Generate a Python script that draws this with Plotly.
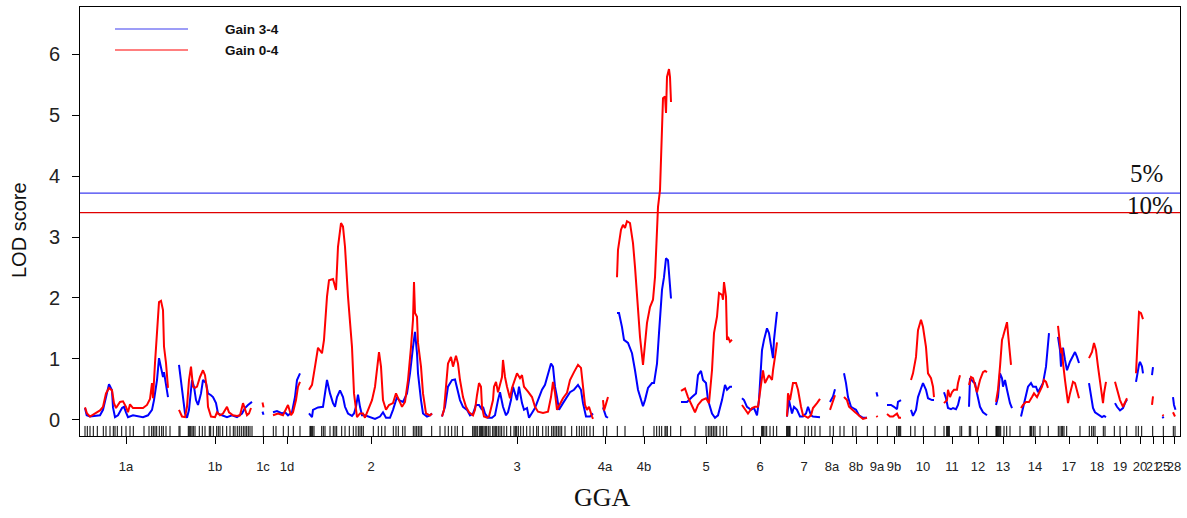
import plotly.graph_objects as go

# ---- chromosome layout (cumulative map position) ----
CHROM_LABELS = ["1a", "1b", "1c", "1d", "2", "3", "4a", "4b", "5", "6", "7", "8a", "8b", "9a", "9b",
                "10", "11", "12", "13", "14", "17", "18", "19", "20", "21", "25", "28"]
CHROM_MID = [126, 215, 263, 287, 371, 517, 605, 644, 706, 760, 804, 832, 856, 877, 894,
             923, 952, 978, 1003, 1035, 1069, 1097, 1120, 1140, 1153, 1163, 1174]

# ---- LOD profile, Gain 3-4 (per chromosome) ----
BLUE_POS = [
    [85, 86.7, 90, 95, 100, 103, 106, 109, 112, 113, 115, 118, 122, 124, 126, 128, 133, 138, 143, 148, 152, 154, 157, 159, 161, 163, 164, 166, 168],
    [179, 181, 183, 185, 187, 189, 192, 194, 196, 198, 201, 203, 206, 208, 211, 213, 216, 218, 222, 227, 232, 237, 242, 245, 248, 252],
    [262.5, 263.5],
    [273, 277, 282, 285, 288, 292, 295, 297, 300],
    [309, 312, 313, 318, 323, 325, 327, 330, 333, 335, 337, 340, 343, 345, 348, 352, 354, 356, 358, 360, 362, 365, 370, 375, 380, 383, 386, 390, 393, 397, 399, 403, 407, 410, 413, 415, 417, 418, 421, 423, 427, 430, 432],
    [442, 445, 448, 452, 455, 457, 460, 463, 467, 470, 473, 476, 479, 482, 483, 485, 488, 492, 495, 498, 500, 503, 506, 508, 511, 513, 515, 517, 519, 522, 524, 527, 529, 532, 535, 538, 542, 545, 548, 551, 553, 555, 557, 559, 563, 567, 570, 574, 578, 581, 583, 586, 590, 593],
    [603, 604.5, 606, 608],
    [617, 619, 622, 624, 628, 632, 635, 638, 643, 645, 648, 652, 654, 657, 659, 662, 664, 666, 668, 669, 671],
    [681, 687, 692, 696, 698, 701, 703, 706, 708, 712, 715, 718, 722, 725, 727, 730, 732],
    [742, 744, 747, 751, 754, 757, 759, 762, 764, 767, 769, 772, 773, 774, 776, 777],
    [787, 789, 792, 794, 797, 800, 803, 806, 808, 811, 813, 820],
    [830, 833, 835],
    [844, 846, 848, 851, 853, 856, 859, 863, 867],
    [876.5, 877.5],
    [887, 891, 894, 897, 898, 901],
    [911, 913, 916, 918, 921, 923, 926, 928, 932, 934],
    [944, 946, 948, 951, 953, 956, 958, 960],
    [969, 970, 973, 975, 977, 980, 983, 987],
    [996, 998, 1000, 1002, 1003, 1005, 1007, 1010, 1012],
    [1021, 1023, 1026, 1028, 1031, 1033, 1036, 1038, 1041, 1043, 1046, 1048, 1049],
    [1058, 1060, 1061, 1063, 1065, 1067, 1070, 1073, 1075, 1077, 1079],
    [1089, 1091, 1093, 1095, 1098, 1102, 1104, 1106],
    [1115, 1117, 1120, 1123, 1125, 1127],
    [1136, 1137, 1139, 1140, 1142, 1143],
    [1152, 1153],
    [1162.5, 1163.5],
    [1173, 1174, 1175.5],
]
BLUE_LOD = [
    [.19, .07, .05, .06, .07, .16, .40, .58, .48, .20, .04, .07, .19, .21, .12, .04, .07, .06, .04, .07, .16, .32, .65, 1.01, .82, .70, .78, .60, .37],
    [.90, .65, .32, .10, .03, .16, .65, .54, .32, .24, .43, .65, .60, .43, .40, .37, .27, .10, .07, .04, .07, .04, .10, .19, .24, .29],
    [.13, .08],
    [.12, .14, .10, .12, .07, .12, .37, .65, .76],
    [.10, .04, .16, .20, .21, .43, .65, .43, .27, .21, .37, .48, .37, .21, .10, .06, .10, .21, .41, .21, .07, .07, .04, .01, .05, .12, .03, .03, .16, .37, .32, .29, .43, .76, 1.19, 1.44, 1.09, .76, .32, .10, .05, .07, .10],
    [.05, .21, .54, .65, .66, .54, .32, .21, .16, .07, .10, .24, .24, .16, .21, .10, .03, .03, .07, .32, .45, .21, .07, .12, .32, .54, .44, .32, .54, .27, .16, .19, .03, .10, .19, .32, .49, .57, .76, .92, .87, .54, .37, .16, .27, .37, .45, .49, .57, .49, .27, .05, .05, .10],
    [.20, .12, .05, .03],
    [1.75, 1.75, 1.52, 1.31, 1.26, 1.09, .81, .49, .22, .32, .52, .60, .60, .92, 1.42, 2.13, 2.34, 2.65, 2.62, 2.34, 1.99],
    [.29, .29, .37, .43, .73, .80, .65, .60, .32, .10, .03, .07, .32, .57, .49, .54, .54],
    [.35, .32, .21, .16, .19, .07, .32, 1.14, 1.31, 1.50, 1.42, 1.14, 1.01, 1.31, 1.64, 1.77],
    [.05, .32, .10, .21, .16, .05, .05, .10, .21, .07, .05, .04],
    [.29, .38, .50],
    [.76, .60, .37, .21, .19, .16, .07, .03, .03],
    [.45, .38],
    [.24, .24, .21, .17, .29, .32],
    [.16, .06, .16, .37, .51, .60, .49, .35, .32, .32],
    [.45, .35, .19, .17, .19, .17, .24, .38],
    [.21, .68, .62, .60, .43, .21, .12, .07],
    [.24, .37, .76, .68, .54, .65, .49, .27, .19],
    [.05, .19, .37, .54, .60, .54, .54, .45, .54, .60, .87, 1.19, 1.42],
    [1.36, 1.14, .87, 1.18, .98, .81, .95, 1.06, 1.11, 1.03, .93],
    [.60, .37, .19, .12, .09, .04, .06, .04],
    [.27, .21, .15, .19, .27, .33],
    [.62, .73, .90, .95, .87, .76],
    [.73, .86],
    [.05, .02],
    [.37, .24, .16],
]

# ---- LOD profile, Gain 0-4 (per chromosome) ----
RED_POS = [
    [85, 87, 90, 95, 100, 103, 106, 109, 112, 114, 116, 120, 123, 126, 128, 130, 133, 138, 143, 147, 150, 152, 153, 155, 157, 159, 161, 163, 164, 166, 168],
    [179, 182, 185, 187, 189, 191, 193, 195, 197, 200, 203, 205, 207, 208, 211, 215, 217, 220, 223, 227, 229, 233, 237, 240, 243, 244, 247, 249, 251],
    [262.5, 263.5],
    [273, 278, 283, 287, 288, 291, 293, 296, 298, 300],
    [309, 312, 315, 318, 322, 324, 327, 329, 333, 336, 338, 341, 343, 345, 348, 352, 354, 357, 360, 363, 365, 368, 372, 375, 377, 379, 381, 383, 386, 389, 393, 396, 399, 402, 405, 408, 411, 413, 414, 415, 417, 418, 421, 423, 426, 430, 432],
    [442, 444, 446, 448, 451, 453, 456, 458, 460, 463, 466, 469, 473, 475, 477, 479, 481, 482, 484, 487, 489, 493, 494, 496, 498, 500, 502, 503, 505, 507, 510, 512, 515, 517, 520, 522, 524, 526, 528, 532, 535, 538, 543, 548, 551, 553, 555, 557, 560, 563, 567, 570, 574, 578, 581, 583, 585, 587, 589, 592, 593],
    [603, 604, 605, 606.5, 608],
    [617, 618, 621, 623, 625, 627, 630, 633, 635, 637, 640, 643, 645, 647, 650, 653, 655, 657, 658, 660, 661, 662, 663, 665, 666, 667, 669, 670, 671],
    [681, 685, 688, 692, 695, 698, 702, 706, 709, 712, 714, 717, 719, 722, 723, 724, 726, 727, 728, 730, 732],
    [742, 745, 748, 752, 755, 758, 762, 763, 765, 767, 769, 772, 773, 776, 777],
    [787, 788, 790, 792, 793, 796, 798, 801, 803, 806, 808, 811, 813, 817, 820],
    [830, 833, 835],
    [844, 847, 849, 853, 856, 860, 863, 867],
    [876.5, 877.5],
    [887, 890, 893, 895, 897, 899, 901],
    [911, 913, 916, 918, 921, 923, 926, 928, 931, 933, 934],
    [944, 947, 948, 950, 952, 954, 957, 958, 960],
    [969, 971, 973, 977, 980, 983, 985, 987],
    [996, 998, 1000, 1002, 1003, 1005, 1007, 1008, 1010, 1011],
    [1021, 1023, 1026, 1029, 1032, 1034, 1037, 1039, 1042, 1044, 1046, 1048],
    [1058, 1059, 1061, 1062, 1063, 1065, 1067, 1068, 1070, 1073, 1075, 1077, 1079],
    [1089, 1092, 1094, 1096, 1098, 1101, 1103, 1104, 1106],
    [1115, 1117, 1120, 1123, 1125, 1127],
    [1136, 1137, 1138, 1139, 1141, 1143],
    [1152, 1153],
    [1162.5, 1163.5],
    [1173, 1175],
]
RED_LOD = [
    [.20, .10, .05, .10, .15, .21, .43, .52, .48, .27, .19, .29, .30, .21, .12, .25, .19, .19, .19, .24, .34, .60, .35, .93, 1.47, 1.93, 1.95, 1.80, 1.20, .93, .52],
    [.16, .05, .04, .21, .65, .87, .54, .52, .54, .70, .81, .73, .49, .21, .05, .04, .12, .07, .10, .21, .12, .07, .06, .07, .27, .21, .07, .10, .19],
    [.28, .20],
    [.07, .10, .07, .19, .24, .07, .12, .32, .54, .62],
    [.49, .57, .87, 1.18, 1.09, 1.31, 2.02, 2.29, 2.31, 2.13, 2.84, 3.23, 3.17, 2.84, 2.02, 1.19, .43, .04, .10, .10, .03, .16, .32, .54, .87, 1.11, .87, .32, .16, .24, .27, .43, .32, .21, .29, .65, 1.19, 1.64, 2.26, 1.75, 1.69, 1.26, .87, .43, .10, .07, .10],
    [.05, .16, .54, .92, 1.03, .87, 1.05, .92, .65, .37, .21, .12, .07, .16, .40, .60, .54, .21, .05, .03, .05, .32, .54, .62, .45, .60, .70, .98, .70, .54, .35, .52, .68, .76, .68, .73, .54, .49, .46, .37, .21, .13, .11, .13, .37, .62, .44, .16, .27, .35, .44, .65, .78, .90, .85, .54, .24, .16, .21, .05, .01],
    [.32, .15, .20, .30, .37],
    [2.34, 2.79, 3.12, 3.20, 3.15, 3.26, 3.23, 2.90, 2.51, 1.97, 1.36, .90, 1.26, 1.59, 1.85, 1.97, 2.34, 3.00, 3.49, 3.77, 4.27, 4.98, 5.28, 5.31, 5.04, 5.63, 5.76, 5.63, 5.22],
    [.47, .51, .37, .21, .12, .24, .32, .35, .27, .81, 1.42, 1.69, 2.08, 2.05, 1.97, 2.26, 2.02, 1.31, 1.36, 1.28, 1.31],
    [.24, .16, .10, .19, .21, .21, .65, .81, .60, .68, .73, .65, .81, 1.14, 1.27],
    [.05, .43, .32, .49, .60, .60, .49, .21, .07, .05, .03, .07, .19, .27, .34],
    [.16, .29, .40],
    [.37, .32, .21, .16, .11, .05, .01, .03],
    [.06, .04],
    [.09, .05, .05, .07, .10, .03, .03],
    [.65, .76, 1.03, 1.47, 1.64, 1.52, 1.19, .76, .68, .54, .37],
    [.27, .32, .49, .37, .45, .49, .49, .60, .73],
    [.57, .70, .68, .45, .65, .78, .80, .78],
    [.29, .49, .87, 1.31, 1.36, 1.47, 1.60, 1.42, 1.03, .90],
    [.19, .24, .29, .29, .37, .43, .37, .43, .54, .65, .62, .52],
    [1.54, 1.42, 1.09, 1.18, .93, .65, .37, .27, .43, .62, .60, .49, .35],
    [1.01, 1.11, 1.26, 1.14, .87, .54, .27, .43, .62],
    [.62, .49, .32, .21, .29, .35],
    [.76, 1.14, 1.64, 1.77, 1.75, 1.65],
    [.24, .38],
    [.08, .06],
    [.12, .05],
]

# ---- marker positions (rug) ----
MARKERS = [85, 87.3, 90, 93.3, 97.3, 103.3, 106, 110, 113.3, 115, 117.3, 121.7, 126, 130, 133.3, 144, 149,
           151.7, 153.3, 155, 156.7, 159.3, 161.7, 163.3, 166, 170, 179, 180, 188.3, 189.3, 190.7, 192, 193.3,
           195, 199.3, 202.3, 205, 209.3, 210.7, 213.3, 216.7, 218.3, 220, 222.7, 226.7, 230, 233.3, 235, 237.3,
           239.3, 241.3, 243.3, 245, 246.7, 248.3, 250, 252, 263.3, 273.3, 276, 283.3, 288.3, 293.3, 300, 310,
           310.7, 311.7, 312.7, 314, 321.7, 323.3, 325, 330, 333.3, 335, 336.7, 341.7, 345, 349.3, 353.3, 356,
           358.3, 360, 361.7, 363.3, 373.3, 378.3, 381.7, 385, 393.3, 396, 398.3, 402.7, 405, 413.3, 415, 416.7,
           418.3, 420, 421.7, 431.7, 440, 445, 448.3, 451.7, 455, 457.3, 462.7, 472.7, 474, 475, 476, 477.3, 479.3,
           480.7, 481.7, 482.7, 484, 485.3, 486.7, 488.3, 490, 492.7, 494, 495.3, 496.7, 498.3, 500, 501.7, 504,
           506.7, 510.7, 514, 515.3, 516.7, 518.3, 520.7, 523.3, 526.7, 530, 533.3, 536.7, 538.3, 542.7, 546,
           548.3, 551.7, 553.3, 555, 556.7, 558.3, 560, 561.7, 565, 571.7, 576.7, 579.3, 581.7, 584, 586.7, 590,
           593.3, 603.3, 606.7, 617.3, 625, 643.3, 654, 656.7, 659.3, 661.7, 665, 666, 667.3, 670.7, 680.7, 695,
           706, 708.3, 710, 711.7, 713.3, 715, 716.7, 720, 723.3, 726.7, 741.7, 753.3, 761.7, 762.7, 763.3, 765,
           766.7, 770, 773.3, 776.7, 786.7, 787.3, 788.3, 789.3, 790, 796.7, 805, 808.3, 811.7, 815, 820, 830,
           833.3, 840, 844, 852.7, 856, 867.3, 877.3, 887.3, 896.7, 898.3, 899.3, 900.7, 910.7, 915, 923.3, 935,
           944, 946.7, 947.7, 948.3, 949.3, 960, 961.7, 969.3, 970.7, 977.3, 986.7, 996, 996.7, 997.3, 998.3,
           999.3, 1000.7, 1004, 1006.7, 1010, 1020, 1030, 1030.7, 1031.7, 1033.3, 1035, 1040, 1048.3, 1058.3,
           1060, 1061.7, 1062.7, 1064, 1066.7, 1080, 1089.3, 1091.7, 1093.3, 1095, 1103.3, 1105, 1114.3, 1120,
           1126.7, 1136, 1138.3, 1141.7, 1152.7, 1163.3, 1173.3, 1175]

THRESH_LOD = [3.72, 3.40]
THRESH_LABELS = ["5%", "10%"]
THRESH_COLORS = ["#3c3cf0", "#e00000"]
SERIES_NAMES = ["Gain 3-4", "Gain 0-4"]

X_RANGE = [80, 1180]
Y_RANGE = [-0.27, 6.78]
RUG_TOP = -0.105


def flatten(segs):
    out = []
    for s in segs:
        out.extend(s)
        out.append(None)
    return out


fig = go.Figure()

# rug of markers
rx, ry = [], []
for m in MARKERS:
    rx += [m, m, None]
    ry += [Y_RANGE[0], RUG_TOP, None]
fig.add_trace(go.Scatter(x=rx, y=ry, mode="lines", line=dict(color="black", width=1),
                         hoverinfo="skip", showlegend=False))

# thresholds
for lod, col in zip(THRESH_LOD, THRESH_COLORS):
    fig.add_trace(go.Scatter(x=X_RANGE, y=[lod, lod], mode="lines",
                             line=dict(color=col, width=1.2), hoverinfo="skip", showlegend=False))

fig.add_trace(go.Scatter(x=flatten(BLUE_POS), y=flatten(BLUE_LOD), mode="lines", name=SERIES_NAMES[0],
                         line=dict(color="#0000ff", width=2), connectgaps=False, showlegend=False))
fig.add_trace(go.Scatter(x=flatten(RED_POS), y=flatten(RED_LOD), mode="lines", name=SERIES_NAMES[1],
                         line=dict(color="#ff0000", width=2), connectgaps=False, showlegend=False))

SANS = "Liberation Sans, Arial, sans-serif"
SERIF = "Liberation Serif, Times New Roman, serif"

annotations = [
    dict(text=THRESH_LABELS[0], x=1146, y=4.05, xref="x", yref="y", showarrow=False,
         font=dict(family=SERIF, size=25, color="#111"), xanchor="center", yanchor="middle"),
    dict(text=THRESH_LABELS[1], x=1150, y=3.52, xref="x", yref="y", showarrow=False,
         font=dict(family=SERIF, size=25, color="#111"), xanchor="center", yanchor="middle"),
    dict(text="GGA", x=(602 - 80) / 1100, y=-(497 - 436) / 429, xref="paper", yref="paper",
         showarrow=False, font=dict(family=SERIF, size=26, color="#111"),
         xanchor="center", yanchor="middle"),
    dict(text="LOD score", x=(19 - 80) / 1100, y=(436 - 230) / 429, xref="paper", yref="paper",
         showarrow=False, textangle=-90, font=dict(family=SANS, size=20, color="#111"),
         xanchor="center", yanchor="middle"),
]
shapes = []
for i, (name, col) in enumerate(zip(SERIES_NAMES, ["#3c3cf0", "#ff0000"])):
    ypix = 29 + i * 21
    yp = (436 - ypix) / 429
    shapes.append(dict(type="line", xref="paper", yref="paper",
                       x0=(115 - 80) / 1100, x1=(188 - 80) / 1100, y0=yp, y1=yp,
                       line=dict(color=col, width=1.2)))
    annotations.append(dict(text="<b>" + name + "</b>", x=(223 - 80) / 1100, y=(436 - ypix - 1) / 429,
                            xref="paper", yref="paper", showarrow=False, xanchor="left",
                            yanchor="middle", font=dict(family=SANS, size=13.5, color="#111")))

fig.update_layout(
    width=1187, height=518,
    margin=dict(l=80, r=7, t=7, b=82),
    paper_bgcolor="white", plot_bgcolor="white",
    showlegend=False,
    annotations=annotations, shapes=shapes,
    xaxis=dict(range=X_RANGE, tickmode="array", tickvals=CHROM_MID, ticktext=CHROM_LABELS,
               ticks="outside", ticklen=7, tickcolor="black", showgrid=False, zeroline=False,
               showline=True, linecolor="black", linewidth=1, mirror=True, tickangle=0,
               tickfont=dict(family=SANS, size=13, color="#222"), ticklabelstandoff=11),
    yaxis=dict(range=Y_RANGE, tickmode="array", tickvals=[0, 1, 2, 3, 4, 5, 6],
               ticks="outside", ticklen=7, tickcolor="black", showgrid=False, zeroline=False,
               showline=True, linecolor="black", linewidth=1, mirror=True,
               tickfont=dict(family=SANS, size=20, color="#222"), ticklabelstandoff=8),
)

fig.write_html("out.html")
